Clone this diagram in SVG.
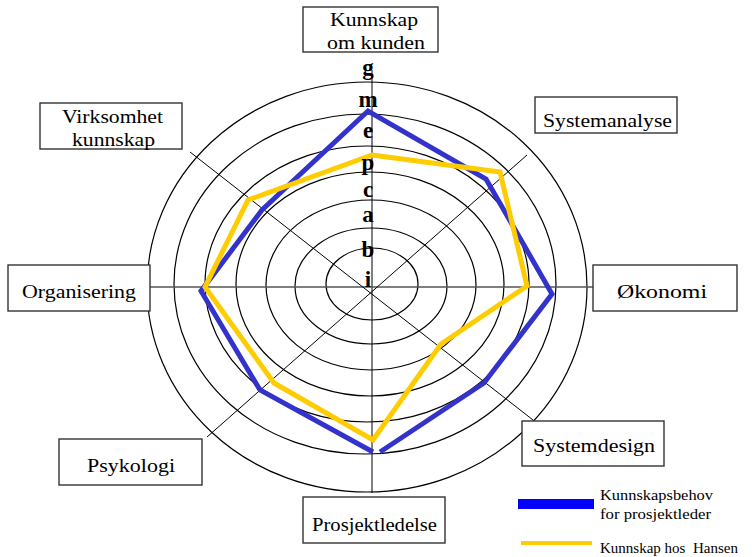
<svg xmlns="http://www.w3.org/2000/svg" width="753" height="557" viewBox="0 0 753 557">
  <style>
    .ring { fill: none; stroke: #000; stroke-width: 1.2; }
    .axis { stroke: #000; stroke-width: 1; }
    .haxis { stroke: #555; stroke-width: 1.6; }
    .box { fill: #fff; stroke: #333; stroke-width: 1.4; }
    .lbl { font-family: "Liberation Serif", "Times New Roman", serif; font-size: 19px; fill: #000; }
    .lvl { font-family: "Liberation Serif", "Times New Roman", serif; font-size: 23px; font-weight: bold; fill: #000; text-anchor: middle; }
    .leg { font-family: "Liberation Serif", "Times New Roman", serif; font-size: 15px; fill: #000; }
    .need { fill: none; stroke: #3333CC; stroke-width: 5; stroke-linejoin: miter; }
    .have { fill: none; stroke: #FFCC00; stroke-width: 5; stroke-linejoin: miter; }
  </style>

  <rect width="753" height="557" fill="#fff"/>

  <!-- concentric rings of the radar grid -->
  <g id="grid">
    <ellipse class="ring" cx="367" cy="287" rx="220" ry="205"/>
    <ellipse class="ring" cx="365" cy="284" rx="191" ry="170"/>
    <ellipse class="ring" cx="367" cy="284" rx="162" ry="138"/>
    <ellipse class="ring" cx="370" cy="284" rx="134" ry="112"/>
    <ellipse class="ring" cx="371" cy="285" rx="105" ry="85"/>
    <ellipse class="ring" cx="371" cy="286" rx="76" ry="58"/>
    <ellipse class="ring" cx="372" cy="284" rx="46" ry="36"/>
  </g>

  <!-- spokes -->
  <g id="connectors">
    <line class="axis" x1="372" y1="70" x2="372" y2="493"/>
    <line class="haxis" x1="150" y1="287" x2="593" y2="287"/>
    <line class="axis" x1="190" y1="152" x2="533" y2="420"/>
    <line class="axis" x1="527" y1="155" x2="207" y2="437"/>
  </g>

  <!-- profiles -->
  <g id="series-need">
    <polyline class="need" points="380,452 484,383 552,294 486,179 368,111 262,210 201,291 260,390 373,452"/>
  </g>
  <g id="series-have">
    <polygon class="have" points="372,155 500,172 527,286 441,344 373,440 274,383 205,287 248,200"/>
  </g>

  <!-- level letters along the vertical spoke -->
  <g id="levels">
    <text class="lvl" x="368" y="75">g</text>
    <text class="lvl" x="368" y="107">m</text>
    <text class="lvl" x="368" y="138">e</text>
    <text class="lvl" x="368" y="170">p</text>
    <text class="lvl" x="368" y="197">c</text>
    <text class="lvl" x="368" y="222">a</text>
    <text class="lvl" x="368" y="257">b</text>
    <text class="lvl" x="368" y="287">i</text>
  </g>

  <!-- axis labels -->
  <g id="node-kunden">
    <rect class="box" x="303" y="7" width="135" height="45"/>
    <text class="lbl" x="330" y="26" textLength="88" lengthAdjust="spacingAndGlyphs">Kunnskap</text>
    <text class="lbl" x="327" y="49" textLength="98" lengthAdjust="spacingAndGlyphs">om kunden</text>
  </g>
  <g id="node-systemanalyse">
    <rect class="box" x="535" y="97" width="142" height="36"/>
    <text class="lbl" x="543" y="127" textLength="129" lengthAdjust="spacingAndGlyphs">Systemanalyse</text>
  </g>
  <g id="node-okonomi">
    <rect class="box" x="593" y="265" width="144" height="46"/>
    <text class="lbl" x="617" y="298" textLength="90" lengthAdjust="spacingAndGlyphs">Økonomi</text>
  </g>
  <g id="node-systemdesign">
    <rect class="box" x="522" y="421" width="142" height="45"/>
    <text class="lbl" x="533" y="452" textLength="122" lengthAdjust="spacingAndGlyphs">Systemdesign</text>
  </g>
  <g id="node-prosjektledelse">
    <rect class="box" x="303" y="497" width="142" height="46"/>
    <text class="lbl" x="312" y="531" textLength="125" lengthAdjust="spacingAndGlyphs">Prosjektledelse</text>
  </g>
  <g id="node-psykologi">
    <rect class="box" x="59" y="439" width="143" height="46"/>
    <text class="lbl" x="87" y="472" textLength="88" lengthAdjust="spacingAndGlyphs">Psykologi</text>
  </g>
  <g id="node-organisering">
    <rect class="box" x="8" y="265" width="142" height="46"/>
    <text class="lbl" x="22" y="298" textLength="114" lengthAdjust="spacingAndGlyphs">Organisering</text>
  </g>
  <g id="node-virksomhet">
    <rect class="box" x="40" y="103" width="142" height="46"/>
    <text class="lbl" x="62" y="123" textLength="101" lengthAdjust="spacingAndGlyphs">Virksomhet</text>
    <text class="lbl" x="72" y="146" textLength="83" lengthAdjust="spacingAndGlyphs">kunnskap</text>
  </g>

  <!-- legend -->
  <g id="legend">
    <rect x="518" y="499" width="76" height="10" fill="#0000FF"/>
    <text class="leg" x="600" y="500" textLength="113" lengthAdjust="spacingAndGlyphs">Kunnskapsbehov</text>
    <text class="leg" x="600" y="519" textLength="111" lengthAdjust="spacingAndGlyphs">for prosjektleder</text>
    <rect x="521" y="541" width="71" height="4" fill="#FFCC00"/>
    <text class="leg" x="600" y="553" xml:space="preserve">Kunnskap hos  Hansen</text>
  </g>
</svg>
